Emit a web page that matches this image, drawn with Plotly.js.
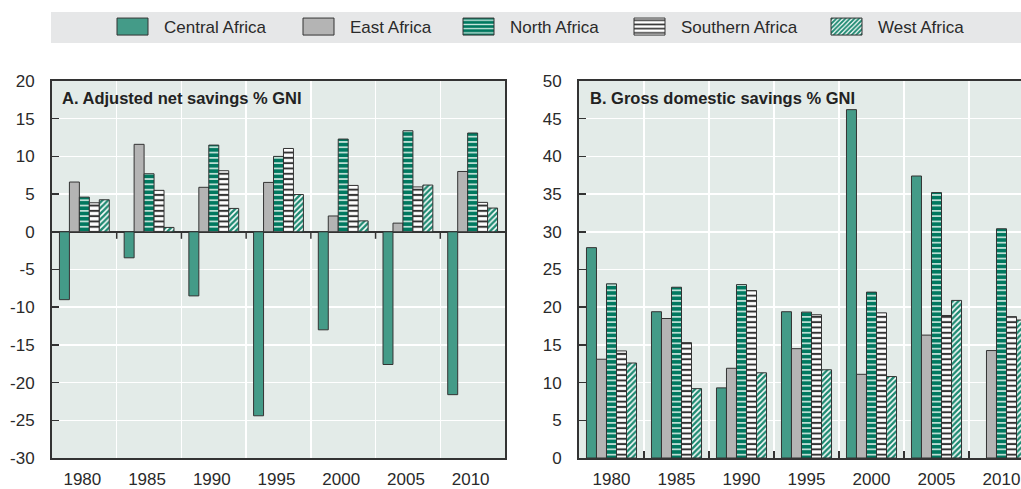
<!DOCTYPE html>
<html><head><meta charset="utf-8">
<script src="https://cdn.plot.ly/plotly-3.0.1.min.js"></script>
<style>html,body{margin:0;padding:0;overflow:hidden;background:#fff;width:1021px;height:489px}#chart{width:1060px;height:489px}</style>
</head><body><div id="chart"></div>
<script>
// ---- data ----
const years = ['1980','1985','1990','1995','2000','2005','2010'];
const regions = ['Central Africa','East Africa','North Africa','Southern Africa','West Africa'];
// Panel A: Adjusted net savings % GNI
const netCentral  = [-9.0, -3.45, -8.5, -24.4, -13.0, -17.6, -21.6];
const netEast     = [6.6, 11.6, 5.9, 6.55, 2.1, 1.15, 8.0];
const netNorth    = [4.6, 7.7, 11.5, 10.0, 12.3, 13.4, 13.1];
const netSouthern = [3.85, 5.5, 8.1, 11.05, 6.15, 5.95, 3.9];
const netWest     = [4.25, 0.58, 3.1, 4.95, 1.45, 6.2, 3.15];
// Panel B: Gross domestic savings % GNI
const grossCentral  = [27.9, 19.4, 9.3, 19.4, 46.2, 37.4, null];
const grossEast     = [13.1, 18.5, 11.9, 14.5, 11.1, 16.3, 14.25];
const grossNorth    = [23.1, 22.65, 23.0, 19.35, 22.0, 35.2, 30.4];
const grossSouthern = [14.2, 15.3, 22.2, 19.0, 19.25, 18.9, 18.75];
const grossWest     = [12.6, 9.2, 11.3, 11.7, 10.8, 20.9, 18.3];
// y-axis tick values
const ticksA = [-30, -25, -20, -15, -10, -5, 0, 5, 10, 15, 20];
const ticksB = [0, 5, 10, 15, 20, 25, 30, 35, 40, 45, 50];
const titleA = 'A. Adjusted net savings % GNI';
const titleB = 'B. Gross domestic savings % GNI';

// ---- styling ----
const W = 1060, H = 489, mT = 81, mB = 31, PH = H - mT - mB;
const px = p => p / W;
const py = p => (H - mB - p) / PH;
const FONT = 'Liberation Sans, Arial, sans-serif';
const TXT = '#2a2a2a';
const LINE = '#333333';

const markerStyles = [
  {color:'#449b88'},
  {color:'#b4b4b4'},
  {color:'#00785f', pattern:{shape:'-', bgcolor:'#00785f', fgcolor:'#d3ebe3', size:5.3, solidity:0.3}},
  {color:'#ffffff', pattern:{shape:'-', bgcolor:'#ffffff', fgcolor:'#333333', size:5.3, solidity:0.38}},
  {color:'#ffffff', pattern:{shape:'/', bgcolor:'#ffffff', fgcolor:'#1f8a72', size:4, solidity:0.62}}
];
const legendLeft = [117, 303, 463, 634, 831]; // swatch left edges (px)

const seriesA = [netCentral, netEast, netNorth, netSouthern, netWest];
const seriesB = [grossCentral, grossEast, grossNorth, grossSouthern, grossWest];

const traces = [];
regions.forEach((name, i) => {
  const lg = i === 0 ? 'legend' : 'legend' + (i + 1);
  traces.push({type:'bar', name, x: years, y: seriesA[i], xaxis:'x', yaxis:'y',
    legend: lg, legendgroup: name, showlegend: true,
    marker: Object.assign({}, markerStyles[i], {line:{color:LINE, width:1}}), hoverinfo:'skip'});
  traces.push({type:'bar', name, x: years, y: seriesB[i], xaxis:'x2', yaxis:'y2',
    legendgroup: name, showlegend: false,
    marker: Object.assign({}, markerStyles[i], {line:{color:LINE, width:1}}), hoverinfo:'skip'});
});

const tickFont = {family: FONT, size: 17, color: TXT};
const baseX = {type:'category', tickson:'boundaries', showgrid:true, gridcolor:'#ffffff', gridwidth:1.5,
  showline:true, mirror:true, linecolor:LINE, linewidth:2, tickfont: tickFont, fixedrange:true,
  range:[-0.5, 6.5], ticklabelstandoff: 5};
const baseY = {ticks:'inside', ticklen:7, tickwidth:1.5, tickcolor:LINE,
  showgrid:true, gridcolor:'#ffffff', gridwidth:1.5, showline:true, mirror:true, linecolor:LINE, linewidth:2,
  tickfont: tickFont, ticklabelstandoff: 12, fixedrange:true};

const legends = {};
legendLeft.forEach((l, i) => {
  const key = i === 0 ? 'legend' : 'legend' + (i + 1);
  legends[key] = {orientation:'h', x: px(l - 16), xanchor:'left', y: py(27), yanchor:'middle',
    bgcolor:'rgba(0,0,0,0)', borderwidth:0, itemwidth:53, font:{family:FONT, size:17, color:TXT},
    itemclick:false, itemdoubleclick:false};
});

// small tick marks hanging below the zero line of panel A, at the category boundaries
const zeroTicks = years.slice(1).map((y, i) => ({type:'line', xref:'x', yref:'y', x0: i + 0.5, x1: i + 0.5,
  ysizemode:'pixel', yanchor: 0, y0: 0, y1: -7, line:{color:LINE, width:1.5}, layer:'above'}));

const layout = Object.assign({
  width: W, height: H,
  margin:{l:0, r:0, t:mT, b:mB, pad:0},
  paper_bgcolor:'#ffffff', plot_bgcolor:'#e3ebe8',
  barmode:'group', bargap:0.23, bargroupgap:0,
  font:{family:FONT, color:TXT},
  xaxis: Object.assign({}, baseX, {domain:[px(52), px(505)], anchor:'y', ticks:'', ticklabelshift:-2}),
  yaxis: Object.assign({}, baseY, {domain:[0,1], anchor:'x', range:[-30,20],
    tickmode:'array', tickvals: ticksA, ticktext: ticksA.map(String),
    zeroline:true, zerolinecolor:LINE, zerolinewidth:1.5}),
  xaxis2: Object.assign({}, baseX, {domain:[px(579), px(1034)], anchor:'y2', ticks:'inside', ticklen:7, tickwidth:1.5, tickcolor:LINE}),
  yaxis2: Object.assign({}, baseY, {domain:[0,1], anchor:'x2', range:[0,50],
    tickmode:'array', tickvals: ticksB, ticktext: ticksB.map(String), zeroline:false}),
  shapes:[{type:'rect', xref:'paper', yref:'paper', x0:px(51), x1:1, y0:py(43), y1:py(12),
    fillcolor:'#e6e7e8', line:{width:0}, layer:'below'}].concat(zeroTicks),
  annotations:[
    {xref:'x domain', yref:'y domain', x:0, y:py(98), xanchor:'left', yanchor:'middle', xshift:8,
     text:'<b>' + titleA + '</b>', showarrow:false, font:{family:FONT, size:16.5, color:'#222'}},
    {xref:'x2 domain', yref:'y2 domain', x:0, y:py(98), xanchor:'left', yanchor:'middle', xshift:9,
     text:'<b>' + titleB + '</b>', showarrow:false, font:{family:FONT, size:16.5, color:'#222'}}
  ],
  showlegend:true
}, legends);

function bigSwatches() {
  document.querySelectorAll('#chart g.legendpoints path').forEach(p => {
    const d = p.getAttribute('d') || '';
    if (/^M6,6H-6V-6H6Z$/.test(d.replace(/\s/g, '')) || p.classList.contains('legendbar')) {
      p.setAttribute('d', 'M15.5,8.5H-15.5V-8.5H15.5Z');
    }
  });
}
Plotly.newPlot('chart', traces, layout, {displayModeBar:false, staticPlot:true})
  .then(bigSwatches).catch(() => {});
setTimeout(bigSwatches, 50);
setTimeout(bigSwatches, 300);
</script>
</body></html>
